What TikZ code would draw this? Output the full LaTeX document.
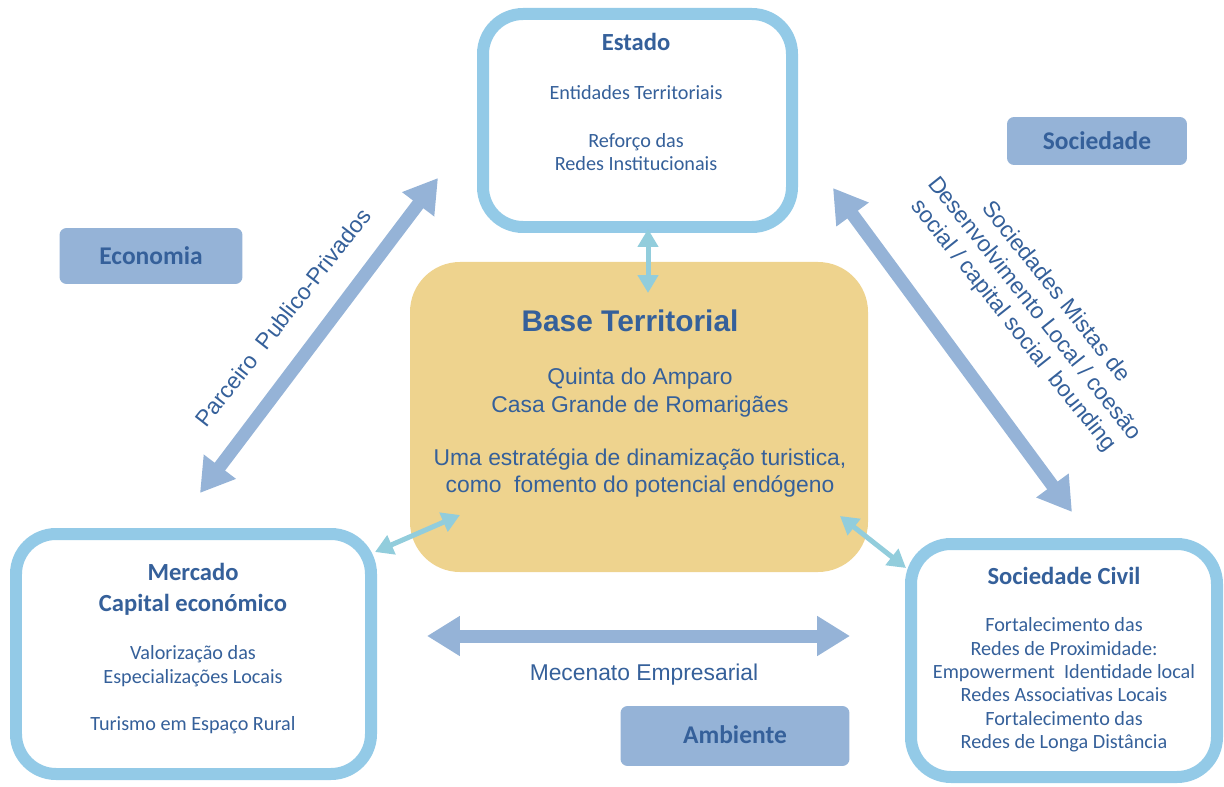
\documentclass[tikz,border=0pt]{standalone}
\usepackage{fontspec}
\setmainfont{Carlito}
\newfontfamily\arialfont{Liberation Sans}
\usetikzlibrary{positioning,fit,arrows.meta}
\definecolor{framebl}{HTML}{93CAE7}
\definecolor{arrowbl}{HTML}{95B3D7}
\definecolor{tipbl}{HTML}{92CDDC}
\definecolor{baseyel}{HTML}{EED38E}
\definecolor{txtbl}{HTML}{35609A}
\tikzset{
  actor/.style={draw=framebl, line width=0.24cm, rounded corners=0.8cm, fill=white, inner sep=0pt},
  basebox/.style={fill=baseyel, rounded corners=1cm, inner sep=0pt},
  tag/.style={fill=arrowbl, rounded corners=4pt, text=txtbl, font=\fontsize{14.5}{17}\selectfont\bfseries},
  title/.style={text=txtbl, align=center, font=\fontsize{14}{17}\selectfont\bfseries},
  body/.style={text=txtbl, align=center, font=\fontsize{11.5}{13.3}\selectfont},
  plain/.style={text=txtbl, align=center, font=\arialfont\fontsize{13}{15.5}\selectfont},
  bigarrow/.style={draw=arrowbl, line width=0.26cm,
    {Triangle[length=0.66cm,width=0.76cm]}-{Triangle[length=0.66cm,width=0.76cm]}},
  smallarrow/.style={draw=tipbl, line width=0.1cm,
    {Triangle[length=0.36cm,width=0.4cm]}-{Triangle[length=0.36cm,width=0.4cm]}}
}
\begin{document}
\begin{tikzpicture}[x=0.02cm, y=-0.02cm]
  \useasboundingbox (0,0) rectangle (1224,787);
  % actors
  \node[basebox, fit={(410,262) (868,572)}] (base) {};
  \node[actor, fit={(483,14) (792,227)}] (estado) {};
  \node[actor, fit={(16,534) (371,774)}] (mercado) {};
  \node[actor, fit={(911,544) (1217,777)}] (civil) {};
  % texts in the boxes
  \node[title] (estadoT) at (636,42) {Estado};
  \node[body] (estadoB) at (636,128) {Entidades Territoriais\\[14pt]Reforço das\\Redes Institucionais};
  \node[title] (mercadoT) at (193,589) {Mercado\\[0.5pt]Capital económico};
  \node[body] (mercadoB) at (193,690) {Valorização das\\Especializações Locais\\[14pt]Turismo em Espaço Rural};
  \node[title] (civilT) at (1064,576) {Sociedade Civil};
  \node[body] (civilB) at (1064,685) {Fortalecimento das\\Redes de Proximidade:\\Empowerment\ \ Identidade local\\Redes Associativas Locais\\Fortalecimento das\\Redes de Longa Distância};
  \node[text=txtbl, font=\arialfont\fontsize{17}{20}\selectfont\bfseries] (baseT) at (630,321) {Base Territorial};
  \node[plain] (baseB) at (640,433) {Quinta do Amparo\\Casa Grande de Romarigães\\[15pt]Uma estratégia de dinamização turistica,\\como\ \ fomento do potencial endógeno};
  % tags
  \node[tag, minimum width=3.6cm, minimum height=0.96cm] (sociedade) at (1097,141) {Sociedade};
  \node[tag, minimum width=3.66cm, minimum height=1.12cm] (economia) at (151,256) {Economia};
  \node[tag, minimum width=4.58cm, minimum height=1.2cm] (ambiente) at (735,736) {\raisebox{2pt}{Ambiente}};
  % arrow ends
  \coordinate (ppA) at (200,493);
  \coordinate (ppB) at (438,178);
  \coordinate (smA) at (833,188);
  \coordinate (smB) at (1072,512);
  \coordinate (meA) at (427,636);
  \coordinate (meB) at (850,636);
  \coordinate (esA) at (648,229);
  \coordinate (esB) at (648,293);
  \coordinate (mbA) at (375,552);
  \coordinate (mbB) at (460,515);
  \coordinate (cbA) at (840,516);
  \coordinate (cbB) at (906,568);
  \draw[bigarrow] (ppA) -- (ppB);
  \draw[bigarrow] (smA) -- (smB);
  \draw[bigarrow] (meA) -- (meB);
  \draw[smallarrow] (esA) -- (esB);
  \draw[smallarrow] (mbA) -- (mbB);
  \draw[smallarrow] (cbA) -- (cbB);
  % arrow labels
  \node[plain, rotate=52] (ppL) at (283,317) {Parceiro\ \ Publico-Privados};
  \node[plain, rotate=-51.5] (smL) at (1034,309) {Sociedades Mistas de\\Desenvolvimento Local / coesão\\social / capital social\ \ bounding};
  \node[plain] (meL) at (644,675) {Mecenato Empresarial};
\end{tikzpicture}
\end{document}
